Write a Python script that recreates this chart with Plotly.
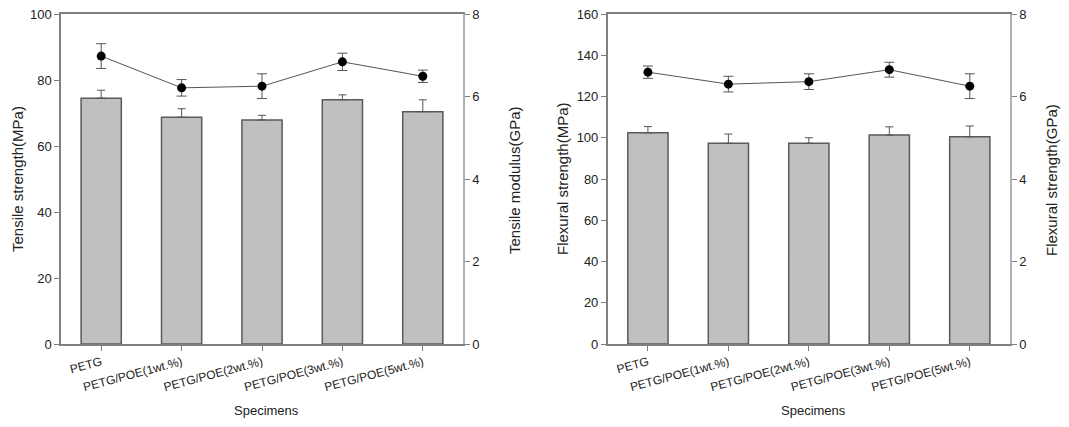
import plotly.graph_objects as go

categories = ["PETG", "PETG/POE(1wt.%)", "PETG/POE(2wt.%)", "PETG/POE(3wt.%)", "PETG/POE(5wt.%)"]

tensile_strength = [74.5, 68.7, 67.9, 74.0, 70.4]
tensile_strength_err = [2.4, 2.6, 1.4, 1.5, 3.6]
tensile_modulus = [6.98, 6.21, 6.25, 6.84, 6.49]
tensile_modulus_err = [0.30, 0.20, 0.30, 0.21, 0.15]

flexural_strength = [102.4, 97.3, 97.3, 101.3, 100.5]
flexural_strength_err = [3.0, 4.5, 2.7, 4.0, 5.2]
flexural_modulus = [6.59, 6.30, 6.36, 6.65, 6.25]
flexural_modulus_err = [0.15, 0.19, 0.19, 0.18, 0.30]

FONT = "Liberation Sans, Arial, sans-serif"
BAR_FILL = "#c0c0c0"
BAR_LINE = "#5a5a5a"
AXIS = "#7f7f7f"
OFF = 8  # default page body margin
W, H = 1069 - 2 * OFF, 427 - 2 * OFF

fig = go.Figure()

def add_panel(xa, ya, ya2, strength, serr, modulus, merr):
    fig.add_trace(go.Bar(
        x=categories, y=strength, xaxis=xa, yaxis=ya, width=0.5,
        marker=dict(color=BAR_FILL, line=dict(color=BAR_LINE, width=1.5)),
        error_y=dict(type="data", array=serr, arrayminus=[0]*len(serr), symmetric=False,
                     color="#555555", thickness=1, width=4),
        showlegend=False))
    fig.add_trace(go.Scatter(
        x=categories, y=modulus, xaxis=xa, yaxis=ya2, mode="lines+markers",
        line=dict(color="#555555", width=1),
        marker=dict(color="black", size=9),
        error_y=dict(type="data", array=merr, color="#555555", thickness=1, width=5),
        showlegend=False))

add_panel("x", "y", "y2", tensile_strength, tensile_strength_err, tensile_modulus, tensile_modulus_err)
add_panel("x2", "y3", "y4", flexural_strength, flexural_strength_err, flexural_modulus, flexural_modulus_err)

def px_x(v):
    return (v - OFF) / W

def px_y(v):
    return 1 - (v - OFF) / H

ydom = [px_y(344), px_y(14)]
xtickfont = dict(family=FONT, size=12, color="#222222")
ytickfont = dict(family=FONT, size=13, color="#222222")
xcommon = dict(type="category", range=[-0.5, 4.5], showline=True, linecolor=AXIS, linewidth=1.5,
               mirror=True, ticks="outside", ticklen=5, tickcolor=AXIS, tickangle=-15,
               tickfont=xtickfont, showgrid=False, zeroline=False, ticklabeloverflow="allow",
               automargin=False)
ycommon = dict(showline=True, linecolor=AXIS, linewidth=1.5, ticks="outside", ticklen=5,
               tickcolor=AXIS, tickfont=ytickfont, showgrid=False, zeroline=False, domain=ydom,
               ticklabeloverflow="allow", automargin=False)

fig.update_layout(
    width=W, height=H,
    margin=dict(l=0, r=0, t=0, b=0, autoexpand=False),
    paper_bgcolor="white", plot_bgcolor="white",
    xaxis=dict(xcommon, domain=[px_x(61), px_x(463)], anchor="y"),
    yaxis=dict(ycommon, range=[0, 100], dtick=20, anchor="x"),
    yaxis2=dict(ycommon, range=[0, 8], dtick=2, overlaying="y", side="right", anchor="x",
                linecolor="#b0b0b0"),
    xaxis2=dict(xcommon, domain=[px_x(607.7), px_x(1010)], anchor="y3"),
    yaxis3=dict(ycommon, range=[0, 160], dtick=20, anchor="x2"),
    yaxis4=dict(ycommon, range=[0, 8], dtick=2, overlaying="y3", side="right", anchor="x2",
                linecolor="#b0b0b0"),
)

annotations = [
    dict(text="Tensile strength(MPa)", x=17, y=179, textangle=-90, size=15),
    dict(text="Tensile modulus(GPa)", x=515, y=180, textangle=-90, size=15),
    dict(text="Specimens", x=266, y=410, textangle=0, size=13),
    dict(text="Flexural strength(MPa)", x=562, y=179, textangle=-90, size=15),
    dict(text="Flexural strength(GPa)", x=1052, y=180, textangle=-90, size=15),
    dict(text="Specimens", x=813, y=410, textangle=0, size=13),
]
for a in annotations:
    fig.add_annotation(text=a["text"], x=px_x(a["x"]), y=px_y(a["y"]),
                       xref="paper", yref="paper", showarrow=False,
                       textangle=a["textangle"],
                       font=dict(family=FONT, size=a["size"], color="#222222"),
                       xanchor="center", yanchor="middle")

fig.write_html("out.html")
